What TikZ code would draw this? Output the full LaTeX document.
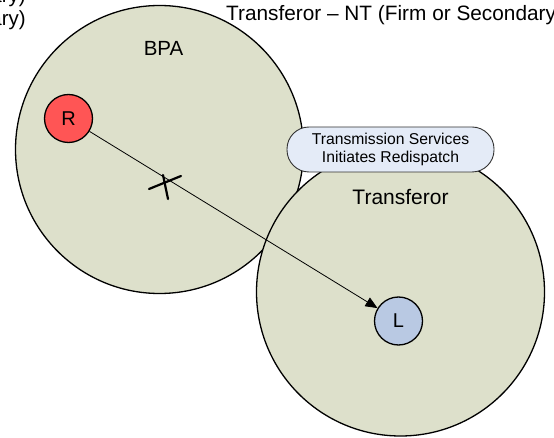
\documentclass[tikz,border=0pt]{standalone}
\usepackage{fontspec}
\setmainfont{Liberation Sans}
\usetikzlibrary{arrows.meta}
\definecolor{areafill}{RGB}{221,224,203}
\definecolor{genfill}{RGB}{255,85,85}
\definecolor{loadfill}{RGB}{185,201,227}
\definecolor{notefill}{RGB}{228,235,247}
\tikzset{
  area/.style={circle, draw=black, line width=1.3pt, fill=areafill, minimum size=288pt, inner sep=0pt},
  busnode/.style={circle, draw=black, line width=1.3pt, minimum size=48pt, inner sep=0pt, font=\fontsize{20}{23}\selectfont},
  note/.style={draw=black!80, line width=0.9pt, fill=notefill, rounded corners=22pt, minimum width=207pt, minimum height=45pt, align=center, inner sep=0pt, font=\fontsize{15.7}{18.5}\selectfont},
  lbl/.style={inner sep=0pt, font=\fontsize{20.5}{23}\selectfont},
  flow/.style={line width=0.8pt, -{Triangle[length=12pt,width=10pt]}},
  cut/.style={line width=2.2pt, line cap=round}
}
\begin{document}
\begin{tikzpicture}[x=1pt,y=-1pt]
\useasboundingbox (0,0) rectangle (554,438);
\node[area] (bpa) at (159.5,149.5) {};
\node[area] (trf) at (400.5,292) {};
\node[note] (note) at (390.5,149.5) {Transmission Services\\Initiates Redispatch};
\node[lbl, anchor=base] (bpalbl) at (163.5,56) {BPA};
\node[lbl, anchor=base, font=\fontsize{21}{24}\selectfont] (trflbl) at (400.5,205) {Transferor};
\node[lbl, anchor=base west, font=\fontsize{20.8}{24}\selectfont] (toptr) at (226,21) {Transferor – NT (Firm or Secondary)};
\node[lbl, anchor=base east] (topl1) at (26,3) {Transferee – PTP (Firm or Secondary)};
\node[lbl, anchor=base east] (topl2) at (26,26) {(Firm or Secondary)};
\node[busnode, fill=genfill] (R) at (68.5,118.5) {R};
\node[busnode, fill=loadfill] (L) at (398.5,321) {L};
\draw[flow] (R) -- (L);
\coordinate (x1) at (149,189);
\coordinate (x2) at (181,176);
\coordinate (x3) at (163,175);
\coordinate (x4) at (168,199);
\draw[cut] (x1) -- (x2);
\draw[cut] (x3) -- (x4);
\end{tikzpicture}
\end{document}
